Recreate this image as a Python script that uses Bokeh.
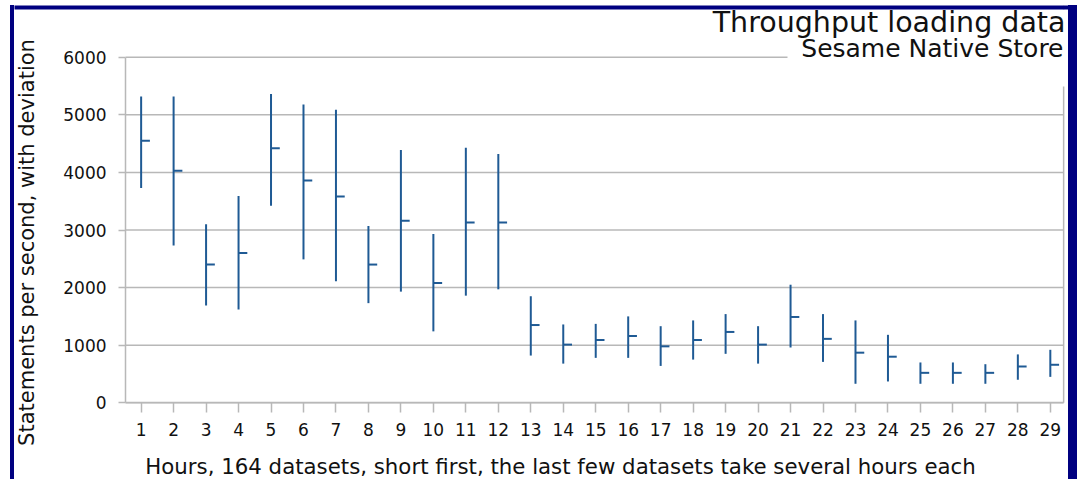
from bokeh.plotting import figure
from bokeh.models import Range1d, Label, BoxAnnotation, FixedTicker, ColumnDataSource
from bokeh.embed import file_html
from bokeh.resources import INLINE
import numpy as np

hours = list(range(1, 30))
high = [5320, 5320, 3100, 3590, 5360, 5180, 5090, 3070, 4390, 2930, 4430, 4320, 1850, 1360,
        1370, 1500, 1330, 1430, 1540, 1330, 2050, 1540, 1430, 1180, 700, 700, 670, 840, 920]
mean = [4550, 4030, 2400, 2600, 4420, 3860, 3580, 2400, 3160, 2080, 3130, 3130, 1350, 1010,
        1090, 1160, 980, 1090, 1230, 1010, 1490, 1110, 870, 800, 520, 520, 520, 630, 660]
low = [3730, 2730, 1690, 1620, 3420, 2490, 2110, 1730, 1930, 1240, 1860, 1970, 820, 680,
       780, 780, 640, 750, 850, 680, 960, 710, 330, 370, 330, 330, 330, 400, 450]
y_ticks = [0, 1000, 2000, 3000, 4000, 5000, 6000]
title_text = "Throughput loading data"
subtitle_text = "Sesame Native Store"
x_label = "Hours, 164 datasets, short first, the last few datasets take several hours each"
y_label = "Statements per second, with deviation"

BAR = "#1f5a94"
GRID = "#b8b8b8"
FONT = "DejaVu Sans"
TXT = "#111111"
NAVY = "#000080"

# plotting area in data units: x from X0 to X1, y from 0 to 6000
X0, X1 = 0.52, 29.41
Y_TOP = 6898

src = ColumnDataSource(dict(x=hours, high=high, low=low, mean=mean,
                            xr=list(np.array(hours) + 0.27)))
grid_src = ColumnDataSource(dict(y=y_ticks, x0=[X0] * len(y_ticks), x1=[X1] * len(y_ticks)))

# the frame fills the whole canvas; axes are drawn at fixed locations inside it
p = figure(width=1054, height=474, output_backend="svg", toolbar_location=None,
           x_range=Range1d(-2.90, 29.56), y_range=Range1d(-1332, Y_TOP),
           min_border_left=0, min_border_right=0, min_border_top=0, min_border_bottom=0)
p.title = None
p.styles = {"margin-left": "14px", "margin-top": "5px",
            "box-shadow": f"-4px 0 0 0 {NAVY}, 9px 0 0 0 {NAVY}"}
p.outline_line_color = None
p.background_fill_color = "white"
p.border_fill_color = "white"
p.xgrid.visible = False
p.ygrid.visible = False

# horizontal grid lines and right frame line
p.segment(x0="x0", y0="y", x1="x1", y1="y", source=grid_src, line_color=GRID, line_width=1.5)
p.segment(x0=[X1], y0=[0], x1=[X1], y1=[Y_TOP], line_color=GRID, line_width=1.5)

# high-low bars with mean tick
p.segment(x0="x", y0="low", x1="x", y1="high", source=src, line_color=BAR, line_width=2)
p.segment(x0="x", y0="mean", x1="xr", y1="mean", source=src, line_color=BAR, line_width=2)

xa, ya = p.xaxis[0], p.yaxis[0]
xa.fixed_location = 0
ya.fixed_location = X0
xa.bounds = (X0, X1)
ya.bounds = (0, 6000)
xa.ticker = FixedTicker(ticks=hours)
ya.ticker = FixedTicker(ticks=y_ticks)
for ax in (xa, ya):
    ax.axis_line_color = GRID
    ax.axis_line_width = 1.5
    ax.major_tick_line_color = GRID
    ax.major_tick_line_width = 1.5
    ax.minor_tick_line_color = None
    ax.major_tick_in = 0
    ax.major_label_text_font = FONT
    ax.major_label_text_font_size = "17px"
    ax.major_label_text_color = TXT
xa.major_tick_out = 10
xa.major_label_standoff = 10
ya.major_tick_out = 7
ya.major_label_standoff = 12
ya.formatter.use_scientific = False

# white box behind the subtitle (hides top grid line end and top of right border)
p.add_layout(BoxAnnotation(left=773, right=1060, top=4, bottom=81,
                           left_units="canvas", right_units="canvas",
                           top_units="canvas", bottom_units="canvas",
                           fill_color="white", fill_alpha=1.0, line_color=None))
# top edge of the page frame
p.add_layout(BoxAnnotation(left=-10, right=1064, top=-2, bottom=4,
                           left_units="canvas", right_units="canvas",
                           top_units="canvas", bottom_units="canvas",
                           fill_color=NAVY, fill_alpha=1.0, line_color=None))

p.add_layout(Label(x=1051, y=16.8, x_units="canvas", y_units="canvas", text=title_text,
                   text_font=FONT, text_font_size="28.5px", text_align="right",
                   text_baseline="alphabetic", text_color=TXT))
p.add_layout(Label(x=1049, y=43, x_units="canvas", y_units="canvas", text=subtitle_text,
                   text_font=FONT, text_font_size="25px", text_align="right",
                   text_baseline="alphabetic", text_color=TXT))
p.add_layout(Label(x=546, y=461, x_units="canvas", y_units="canvas", text=x_label,
                   text_font=FONT, text_font_size="21.3px", text_align="center",
                   text_baseline="alphabetic", text_color=TXT))
p.add_layout(Label(x=12.5, y=237, x_units="canvas", y_units="canvas", text=y_label,
                   text_font=FONT, text_font_size="21px", text_align="center",
                   text_baseline="middle", angle=np.pi / 2, text_color=TXT))

open("out.html", "w").write(file_html(p, INLINE))
